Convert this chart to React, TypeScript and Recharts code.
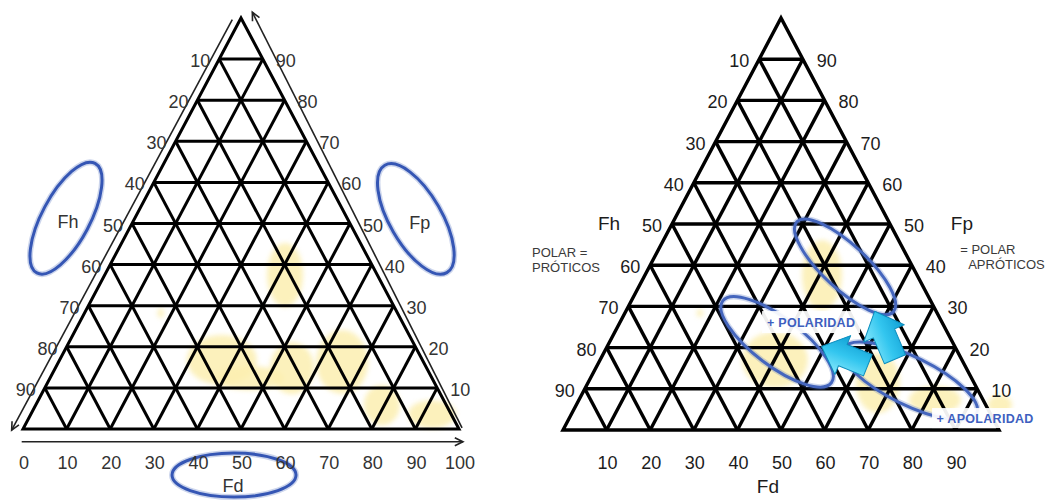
import React from 'react';
import { ScatterChart, Scatter, XAxis, YAxis, ReferenceLine, ReferenceDot } from 'recharts';

const FONT = '"Liberation Sans", Arial, Helvetica, sans-serif';

// ---------- data ----------
const gridSteps = [10, 20, 30, 40, 50, 60, 70, 80, 90];
const fhTicks = [10, 20, 30, 40, 50, 60, 70, 80, 90];
const fpTicks = [90, 80, 70, 60, 50, 40, 30, 20, 10];
const fdTicksLeft = [0, 10, 20, 30, 40, 50, 60, 70, 80, 90, 100];
const fdTicksRight = [10, 20, 30, 40, 50, 60, 70, 80, 90];

// yellow solvent zones, centres in diagram units (x along Fd base, y height)
const zonesLeft = [
  { x: 60.1, y: 37.5 }, { x: 45.6, y: 16.8 }, { x: 52.1, y: 12.4 }, { x: 61.7, y: 14.8 },
  { x: 73.2, y: 16.3 }, { x: 82.3, y: 5.8 }, { x: 93.8, y: 3.6 }, { x: 31.6, y: 28.2 },
];
const zoneSizesLeft = [[18, 32], [35, 25], [34, 12], [22, 26], [26, 32], [18, 20], [24, 14], [3, 5]];
const zonesRight = [
  { x: 59.4, y: 37.6 }, { x: 48.6, y: 17.0 }, { x: 72.2, y: 11.4 }, { x: 85.3, y: 7.3 },
  { x: 100.2, y: 6.1 }, { x: 31.4, y: 28.4 },
];
const zoneSizesRight = [[20, 35], [33, 28], [22, 30], [26, 14], [12, 10], [3, 4]];

// ---------- geometry in diagram units ----------
type Pt = { x: number; y: number };
const outline: Pt[] = [{ x: 50, y: 0 }, { x: 100, y: 0 }, { x: 50, y: 100 }, { x: 0, y: 0 }, { x: 50, y: 0 }];
const horizontalSegments: Pt[][] = gridSteps.map((k) => {
  const h = 100 - k;
  return [{ x: h / 2, y: h }, { x: 100 - h / 2, y: h }];
});
const risingSegments: Pt[][] = gridSteps.map((s) => [{ x: s, y: 0 }, { x: (100 + s) / 2, y: 100 - s }]);
const fallingSegments: Pt[][] = gridSteps.map((s) => [{ x: s, y: 0 }, { x: s / 2, y: s }]);
const allSegments = [...horizontalSegments, ...risingSegments, ...fallingSegments];

const fhPoints = fhTicks.map((v) => ({ x: (100 - v) / 2, y: 100 - v, label: String(v) }));
const fpPoints = fpTicks.map((v) => ({ x: 100 - v / 2, y: v, label: String(v) }));
const fdPointsLeft = fdTicksLeft.map((v) => ({ x: v, y: 0, label: String(v) }));
const fdPointsRight = fdTicksRight.map((v) => ({ x: v, y: 0, label: String(v) }));

// ---------- layout ----------
const LEFT = { width: 524, height: 501, x0: 23, W: 436, baseY: 429, H: 411 };
const RIGHT = { width: 524, height: 501, x0: 39, W: 436, baseY: 430, H: 412 };

function domains(g: typeof LEFT) {
  const sx = g.W / 100;
  const sy = g.H / 100;
  return {
    x: [-g.x0 / sx, (g.width - g.x0) / sx] as [number, number],
    y: [(g.baseY - g.height) / sy, g.baseY / sy] as [number, number],
  };
}

// ---------- shapes ----------
const labelShape = (dx: number, dy: number, color: string, size: number) => (p: any) => (
  <text x={p.cx + dx} y={p.cy + dy} textAnchor="middle" dominantBaseline="central"
    fontFamily={FONT} fontSize={size} fill={color}>{p.payload.label}</text>
);
const noDot = () => <g />;

const blobShape = (rx: number, ry: number) => (p: any) => (
  <ellipse cx={p.cx} cy={p.cy} rx={rx} ry={ry} fill="#fcefb0" fillOpacity={0.85}
    style={{ filter: 'blur(2.5px)' }} />
);

const ellipseShape = (rx: number, ry: number, rot: number, stroke: string, sw: number) => (p: any) => (
  <g transform={`rotate(${rot} ${p.cx} ${p.cy})`}>
    <ellipse cx={p.cx} cy={p.cy} rx={rx} ry={ry} fill="none" stroke={stroke} strokeOpacity={0.25} strokeWidth={sw + 3} />
    <ellipse cx={p.cx} cy={p.cy} rx={rx} ry={ry} fill="none" stroke={stroke} strokeWidth={sw} />
  </g>
);

const textShape = (lines: string[], dx: number, dy: number, size: number, color: string,
  anchor: 'start' | 'middle' | 'end' = 'middle', lineGap = 15, indents: number[] = []) => (p: any) => (
  <g>
    {lines.map((t, i) => (
      <text key={i} x={p.cx + dx + (indents[i] || 0)} y={p.cy + dy + i * lineGap} textAnchor={anchor}
        dominantBaseline="central" fontFamily={FONT} fontSize={size} fill={color}>{t}</text>
    ))}
  </g>
);

const boxLabel = (text: string, w: number, h: number) => (p: any) => (
  <g>
    <rect x={p.cx - w / 2} y={p.cy - h / 2} width={w} height={h} fill="#ffffff" fillOpacity={0.93} />
    <text x={p.cx} y={p.cy + 1} textAnchor="middle" dominantBaseline="central" fontFamily={FONT}
      fontSize={12.5} fontWeight={700} fill="#3e5fbf" letterSpacing={0.3}>{text}</text>
  </g>
);

const blockArrow = (dirDeg: number, L: number, sw: number, hw: number, hl: number, id: string) => (p: any) => {
  const pts = [
    [-L / 2, -sw / 2], [L / 2 - hl, -sw / 2], [L / 2 - hl, -hw / 2], [L / 2, 0],
    [L / 2 - hl, hw / 2], [L / 2 - hl, sw / 2], [-L / 2, sw / 2],
  ].map(([a, b]) => `${a},${b}`).join(' ');
  return (
    <g transform={`translate(${p.cx} ${p.cy}) rotate(${dirDeg})`}>
      <defs>
        <linearGradient id={id} x1="0" y1="0" x2="0" y2="1">
          <stop offset="0" stopColor="#8ae9fc" />
          <stop offset="0.5" stopColor="#33c6ef" />
          <stop offset="1" stopColor="#109fd4" />
        </linearGradient>
      </defs>
      <polygon points={pts} fill={`url(#${id})`} stroke="#0c8dbd" strokeWidth={1} strokeLinejoin="round" />
    </g>
  );
};

const arrowLine = (p: any) => {
  const { x1, y1, x2, y2 } = p;
  const ang = Math.atan2(y2 - y1, x2 - x1);
  const L = 9;
  const spread = 0.45;
  const ax = x2 - L * Math.cos(ang - spread), ay = y2 - L * Math.sin(ang - spread);
  const bx = x2 - L * Math.cos(ang + spread), by = y2 - L * Math.sin(ang + spread);
  return (
    <g>
      <line x1={x1} y1={y1} x2={x2} y2={y2} stroke="#222" strokeWidth={1.6} />
      <polyline points={`${ax},${ay} ${x2},${y2} ${bx},${by}`} fill="none" stroke="#222" strokeWidth={1.6} />
    </g>
  );
};

function gridLines(prefix: string, sw: number) {
  return allSegments.map((seg, i) => (
    <ReferenceLine key={`${prefix}-g${i}`} segment={seg} stroke="#000" strokeWidth={sw}
      ifOverflow="visible" zIndex={20} />
  ));
}

function LeftChart() {
  const d = domains(LEFT);
  const txt = '#333';
  return (
    <ScatterChart width={LEFT.width} height={LEFT.height} margin={{ top: 0, right: 0, bottom: 0, left: 0 }}>
      <XAxis type="number" dataKey="x" domain={d.x} allowDataOverflow hide />
      <YAxis type="number" dataKey="y" domain={d.y} allowDataOverflow hide />
      {zonesLeft.map((z, i) => (
        <ReferenceDot key={`zl${i}`} x={z.x} y={z.y} r={1} ifOverflow="visible" zIndex={10}
          shape={blobShape(zoneSizesLeft[i][0], zoneSizesLeft[i][1])} />
      ))}
      {gridLines('L', 3)}
      <Scatter data={outline} isAnimationActive={false} shape={noDot} zIndex={30}
        line={{ stroke: '#000', strokeWidth: 3, strokeLinejoin: 'miter' }} fill="#000" />
      <ReferenceLine segment={[{ x: 48.0, y: 99.6 }, { x: -2.6, y: -0.3 }]} ifOverflow="visible" shape={arrowLine} zIndex={30} />
      <ReferenceLine segment={[{ x: 100.7, y: 0.3 }, { x: 52.6, y: 101.4 }]} ifOverflow="visible" shape={arrowLine} zIndex={30} />
      <ReferenceLine segment={[{ x: -0.3, y: -3.1 }, { x: 100.9, y: -3.1 }]} ifOverflow="visible" shape={arrowLine} zIndex={30} />
      <ReferenceDot x={9.86} y={51.3} r={1} ifOverflow="visible" zIndex={40} shape={ellipseShape(24, 62, 28, '#3556b4', 3)} />
      <ReferenceDot x={90.1} y={51.1} r={1} ifOverflow="visible" zIndex={40} shape={ellipseShape(26, 62, -30, '#3556b4', 3)} />
      <ReferenceDot x={48.4} y={-11.2} r={1} ifOverflow="visible" zIndex={40} shape={ellipseShape(62, 22, 0, '#3556b4', 3)} />
      <ReferenceDot x={9.86} y={51.3} r={1} ifOverflow="visible" zIndex={70} shape={textShape(['Fh'], 2, 4, 18, txt)} />
      <ReferenceDot x={90.1} y={51.1} r={1} ifOverflow="visible" zIndex={70} shape={textShape(['Fp'], 4, 4, 18, txt)} />
      <ReferenceDot x={48.4} y={-11.2} r={1} ifOverflow="visible" zIndex={70} shape={textShape(['Fd'], -1, 11, 18, txt)} />
      <Scatter data={fhPoints} isAnimationActive={false} shape={labelShape(-19, 2, txt, 18)} zIndex={70} />
      <Scatter data={fpPoints} isAnimationActive={false} shape={labelShape(23, 2, txt, 18)} zIndex={70} />
      <Scatter data={fdPointsLeft} isAnimationActive={false} shape={labelShape(1, 34, txt, 18)} zIndex={70} />
    </ScatterChart>
  );
}

function RightChart() {
  const d = domains(RIGHT);
  const txt = '#1c1c1c';
  const blue = '#4566bd';
  return (
    <ScatterChart width={RIGHT.width} height={RIGHT.height} margin={{ top: 0, right: 0, bottom: 0, left: 0 }}>
      <XAxis type="number" dataKey="x" domain={d.x} allowDataOverflow hide />
      <YAxis type="number" dataKey="y" domain={d.y} allowDataOverflow hide />
      {zonesRight.map((z, i) => (
        <ReferenceDot key={`zr${i}`} x={z.x} y={z.y} r={1} ifOverflow="visible" zIndex={10}
          shape={blobShape(zoneSizesRight[i][0], zoneSizesRight[i][1])} />
      ))}
      {gridLines('R', 3.4)}
      <Scatter data={outline} isAnimationActive={false} shape={noDot} zIndex={30}
        line={{ stroke: '#000', strokeWidth: 3.4, strokeLinejoin: 'miter' }} fill="#000" />
      <ReferenceDot x={64.7} y={39.6} r={1} ifOverflow="visible" zIndex={40} shape={ellipseShape(66, 22, 43, blue, 3)} />
      <ReferenceDot x={49.1} y={21.4} r={1} ifOverflow="visible" zIndex={40} shape={ellipseShape(68, 24, 37, blue, 3)} />
      <ReferenceDot x={79.6} y={11.9} r={1} ifOverflow="visible" zIndex={40} shape={ellipseShape(74, 24, 26, blue, 3)} />
      <ReferenceDot x={56.9} y={26.2} r={1} ifOverflow="visible" zIndex={50} shape={boxLabel('+ POLARIDAD', 98, 22)} />
      <ReferenceDot x={96.8} y={2.9} r={1} ifOverflow="visible" zIndex={50} shape={boxLabel('+ APOLARIDAD', 106, 20)} />
      <ReferenceDot x={73.8} y={23.0} r={1} ifOverflow="visible" zIndex={60} shape={blockArrow(-113, 52, 23, 44, 24, 'arrA')} />
      <ReferenceDot x={64.6} y={18.0} r={1} ifOverflow="visible" zIndex={60} shape={blockArrow(-158, 50, 23, 42, 23, 'arrB')} />
      <ReferenceDot x={10.55} y={50.2} r={1} ifOverflow="visible" zIndex={70} shape={textShape(['Fh'], 0, 0, 19, txt)} />
      <ReferenceDot x={91.5} y={50.2} r={1} ifOverflow="visible" zIndex={70} shape={textShape(['Fp'], 0, 0, 19, txt)} />
      <ReferenceDot x={47.0} y={-13.8} r={1} ifOverflow="visible" zIndex={70} shape={textShape(['Fd'], 0, 0, 19, txt)} />
      <ReferenceDot x={-7.1} y={43.2} r={1} ifOverflow="visible" zIndex={70}
        shape={textShape(['POLAR =', 'PRÓTICOS'], 0, 0, 13, '#3a3a3a', 'start', 15)} />
      <ReferenceDot x={91.1} y={43.7} r={1} ifOverflow="visible" zIndex={70}
        shape={textShape(['= POLAR', 'APRÓTICOS'], 0, 0, 13, '#3a3a3a', 'start', 15, [0, 8])} />
      <Scatter data={fhPoints} isAnimationActive={false} shape={labelShape(-20, 2, txt, 18)} zIndex={70} />
      <Scatter data={fpPoints} isAnimationActive={false} shape={labelShape(24, 2, txt, 18)} zIndex={70} />
      <Scatter data={fdPointsRight} isAnimationActive={false} shape={labelShape(1, 33, txt, 18)} zIndex={70} />
    </ScatterChart>
  );
}

export default function App() {
  return (
    <div style={{ position: 'absolute', left: 0, top: 0, width: 1048, height: 501, background: '#fff', overflow: 'hidden' }}>
      <div style={{ position: 'absolute', left: 0, top: 0 }}>
        <LeftChart />
      </div>
      <div style={{ position: 'absolute', left: 524, top: 0 }}>
        <RightChart />
      </div>
    </div>
  );
}
